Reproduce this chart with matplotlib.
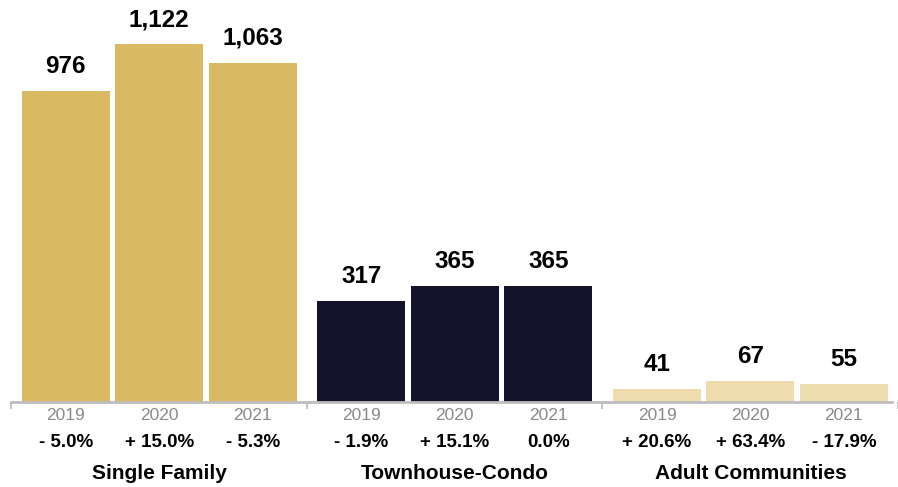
import matplotlib
matplotlib.use('Agg')
import matplotlib.pyplot as plt
import numpy as np

plt.rcParams['font.family'] = ['Liberation Sans', 'DejaVu Sans']

categories = ['Single Family', 'Townhouse-Condo', 'Adult Communities']
years = ['2019', '2020', '2021']
values = [[976, 1122, 1063],
          [317, 365, 365],
          [41, 67, 55]]
changes = [['- 5.0%', '+ 15.0%', '- 5.3%'],
           ['- 1.9%', '+ 15.1%', '0.0%'],
           ['+ 20.6%', '+ 63.4%', '- 17.9%']]
colors = ['#D9B962', '#13132E', '#EEDBAE']

fig = plt.figure(figsize=(8.98, 4.87), dpi=100)
ax = fig.add_axes([0, 85/487, 1, 402/487])

bar_w = 88.5
bar_step = 94
group_step = 297.5
first = 66.25

for g, cat in enumerate(categories):
    xs = first + g*group_step + np.arange(3)*bar_step
    ax.bar(xs, values[g], width=bar_w, color=colors[g])
    for x, v, yr, ch in zip(xs, values[g], years, changes[g]):
        ax.annotate(f'{v:,}', (x, v), xytext=(0, 13), textcoords='offset pixels',
                    ha='center', va='bottom', fontsize=17.5, fontweight='bold')
        ax.text(x, -0.034, yr, transform=ax.get_xaxis_transform(), ha='center',
                va='center', fontsize=12.5, color='#8a8a8a')
        ax.text(x, -0.1, ch, transform=ax.get_xaxis_transform(), ha='center',
                va='center', fontsize=13.5, fontweight='bold')
    ax.text(xs[1], -0.177, cat, transform=ax.get_xaxis_transform(), ha='center',
            va='center', fontsize=15, fontweight='bold')

ax.set_xlim(0, 898)
ax.set_ylim(0, 1260)
for s in ['top', 'right', 'left']:
    ax.spines[s].set_visible(False)
ax.spines['bottom'].set_color('#BDBDBD')
ax.spines['bottom'].set_linewidth(2)
ax.spines['bottom'].set_bounds(11, 898)
ticks = [first - bar_w/2 - 10.75 + g*group_step for g in range(4)]
ax.set_xticks(ticks)
ax.set_xticklabels([])
ax.tick_params(axis='x', length=5, width=1.5, color='#C8C8C8')
ax.set_yticks([])

fig.savefig('out.png', dpi=100)
